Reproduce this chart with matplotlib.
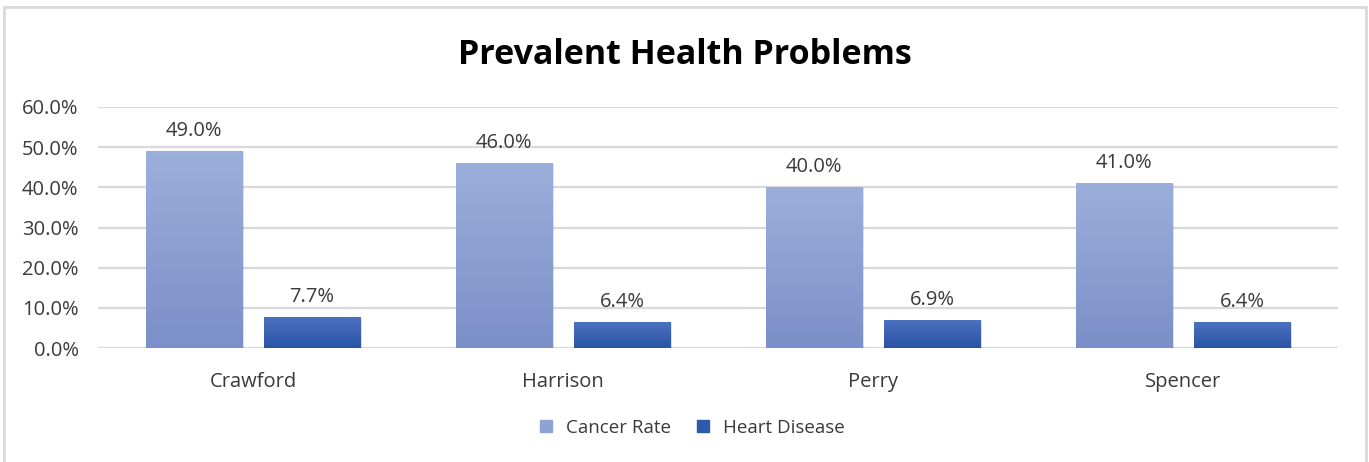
import numpy as np
import matplotlib
matplotlib.use("Agg")
import matplotlib.pyplot as plt
from matplotlib.colors import LinearSegmentedColormap
from matplotlib.patches import Rectangle
from matplotlib.lines import Line2D

plt.rcParams['font.family'] = ['Open Sans', 'DejaVu Sans']

counties = ["Crawford", "Harrison", "Perry", "Spencer"]
cancer_rate = [0.49, 0.46, 0.40, 0.41]
heart_disease = [0.077, 0.064, 0.069, 0.064]
series_names = ["Cancer Rate", "Heart Disease"]
y_ticks = [0.0, 0.1, 0.2, 0.3, 0.4, 0.5, 0.6]

W, H = 1369, 462
fig = plt.figure(figsize=(W / 100, H / 100), dpi=100)
fig.patch.set_facecolor("white")

# light outer frame
frame = Rectangle((4 / W, -0.05), (1366 - 4) / W, (H - 7) / H + 0.05,
                  transform=fig.transFigure, fill=False,
                  edgecolor="#d9d9d9", linewidth=2.0)
fig.add_artist(frame)

ax = fig.add_axes([98 / W, 1 - 348 / H, 1240 / W, (348 - 107) / H])
ax.set_xlim(-0.5, len(counties) - 0.5)
ax.set_ylim(0, 0.6)

TXT = "#3a3a3a"
for s in ax.spines.values():
    s.set_visible(False)
ax.set_yticks(y_ticks)
ax.set_yticklabels([f"{v*100:.1f}%" for v in y_ticks], fontsize=14.5, color=TXT)
ax.set_xticks(range(len(counties)))
ax.set_xticklabels(counties, fontsize=14.5, color=TXT)
ax.tick_params(axis="both", length=0)
ax.tick_params(axis="x", pad=17)
ax.tick_params(axis="y", pad=14)
ax.yaxis.grid(True, color="#d9d9d9", linewidth=1.6)
ax.set_axisbelow(True)

width = 0.31
offset = 0.19
x = np.arange(len(counties))

cmaps = [
    LinearSegmentedColormap.from_list("c1", ["#7b8fc8", "#9cafdb"]),
    LinearSegmentedColormap.from_list("c2", ["#2a54a6", "#4c71bf"]),
]
legend_colors = ["#8ea2d3", "#2f5aab"]
grad = np.linspace(0, 1, 256).reshape(-1, 1)

for k, (vals, cmap) in enumerate(zip([cancer_rate, heart_disease], cmaps)):
    pos = x + (-offset if k == 0 else offset)
    # soft shadow
    ax.bar(pos + 0.006, vals, width, bottom=-0.002, color="#000000", alpha=0.12,
           zorder=2, linewidth=0)
    bars = ax.bar(pos, vals, width, color="none", linewidth=0, zorder=3)
    for b, v in zip(bars, vals):
        x0 = b.get_x()
        im = ax.imshow(grad, cmap=cmap, origin="lower", aspect="auto",
                       extent=[x0, x0 + width, 0, v], zorder=3)
        im.set_clip_path(b)
        ax.text(b.get_x() + width / 2, v + 0.025, f"{v*100:.1f}%",
                ha="center", va="bottom", fontsize=14.5, color=TXT, zorder=4)

ax.set_xlim(-0.5, len(counties) - 0.5)
ax.set_ylim(0, 0.6)

fig.text(685 / W, 1 - 55 / H, "Prevalent Health Problems", ha="center", va="center",
         fontsize=24.5, fontweight="bold", color="black")

handles = [Line2D([], [], marker="s", linestyle="none", markersize=8,
                  markerfacecolor=c, markeredgecolor=c) for c in legend_colors]
fig.legend(handles, series_names, loc="center", bbox_to_anchor=(686 / W, 1 - 428 / H),
           ncol=2, frameon=False, fontsize=13.5, handletextpad=0.05, columnspacing=0.7,
           labelcolor=TXT)

fig.savefig("out.png", dpi=100)
